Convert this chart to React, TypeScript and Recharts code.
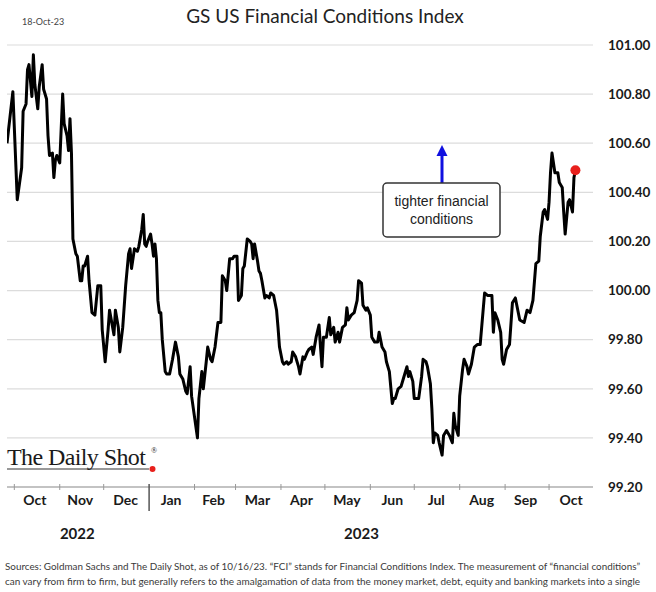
import { LineChart, Line, XAxis, YAxis, CartesianGrid } from "recharts";

// x = days counted from 1 Oct 2022
const days = [
  -5, -1, 2, 5, 6, 8, 9, 10, 12, 13, 14, 16, 17, 19, 20, 22, 23, 24, 26, 27, 28, 29, 31, 33, 34, 36, 37, 38, 39, 40,
  42, 43, 45, 46, 47, 48, 50, 51, 53, 55, 57, 59, 60, 62, 64, 65, 68, 69, 71, 72, 74, 76, 78, 79, 80, 82, 84, 85, 87, 88,
  89, 90, 91, 93, 94, 95, 96, 97, 98, 99, 100, 101, 103, 104, 106, 108, 110, 112, 113, 115, 117, 118, 120, 121, 125, 126, 128, 129, 131, 132,
  134, 135, 137, 139, 141, 142, 144, 145, 147, 149, 150, 152, 153, 155, 156, 157, 159, 161, 162, 163, 164, 166, 167, 168, 169, 171, 172, 174, 175, 177,
  179, 180, 181, 183, 184, 186, 187, 189, 190, 192, 194, 195, 197, 198, 200, 201, 203, 204, 206, 208, 209, 210, 211, 213, 215, 216, 218, 219, 221, 222,
  224, 226, 227, 228, 230, 232, 234, 235, 237, 238, 240, 241, 243, 244, 246, 248, 249, 251, 253, 254, 256, 258, 259, 260, 262, 264, 266, 268, 269, 270,
  272, 273, 274, 276, 278, 279, 281, 282, 284, 285, 286, 287, 289, 290, 292, 293, 295, 296, 297, 299, 300, 301, 303, 304, 306, 307, 309, 310, 312, 314,
  316, 318, 321, 323, 326, 327, 328, 330, 332, 333, 334, 336, 338, 340, 342, 345, 348, 350, 352, 354, 356, 358, 359, 361, 362, 364, 365, 366, 367, 369,
  371, 372, 374, 375, 376, 378, 379, 381, 382, 383
];

const fci = [
  100.6, 100.81, 100.37, 100.5, 100.73, 100.76, 100.9, 100.92, 100.79, 100.96, 100.84, 100.74, 100.83, 100.92, 100.82, 100.78, 100.63, 100.55, 100.56, 100.46, 100.53, 100.55, 100.52, 100.8, 100.68, 100.63, 100.57, 100.7, 100.56, 100.21,
  100.15, 100.14, 100.04, 100.04, 100.1, 100.1, 100.14, 100.04, 99.91, 99.9, 100.02, 100.02, 99.84, 99.71, 99.84, 99.92, 99.82, 99.92, 99.85, 99.75, 99.85, 100.02, 100.15, 100.17, 100.09, 100.17, 100.16, 100.18, 100.25, 100.31,
  100.19, 100.18, 100.2, 100.23, 100.19, 100.14, 100.19, 100.13, 99.96, 99.91, 99.91, 99.8, 99.67, 99.66, 99.66, 99.72, 99.79, 99.73, 99.66, 99.64, 99.59, 99.58, 99.69, 99.57, 99.4, 99.56, 99.67, 99.6, 99.71, 99.77,
  99.72, 99.71, 99.77, 99.87, 99.87, 100.06, 100.04, 100.0, 100.13, 100.13, 100.14, 100.14, 99.96, 99.98, 100.09, 100.1, 100.21, 100.2, 100.19, 100.13, 100.19, 100.12, 100.08, 100.07, 100.04, 99.97, 99.98, 99.97, 99.99, 99.98,
  99.92, 99.85, 99.77, 99.71, 99.7, 99.71, 99.7, 99.71, 99.75, 99.73, 99.69, 99.66, 99.73, 99.72, 99.75, 99.76, 99.77, 99.74, 99.81, 99.86, 99.77, 99.69, 99.81, 99.81, 99.89, 99.82, 99.85, 99.79, 99.83, 99.79,
  99.85, 99.86, 99.93, 99.88, 99.9, 99.91, 99.96, 100.04, 100.03, 99.94, 99.92, 99.93, 99.9, 99.81, 99.79, 99.79, 99.83, 99.77, 99.75, 99.71, 99.67, 99.54, 99.56, 99.56, 99.6, 99.61, 99.65, 99.69, 99.65, 99.67,
  99.63, 99.56, 99.56, 99.56, 99.65, 99.72, 99.71, 99.69, 99.62, 99.52, 99.38, 99.42, 99.41, 99.38, 99.33, 99.41, 99.43, 99.42, 99.41, 99.38, 99.5, 99.45, 99.41, 99.57, 99.68, 99.72, 99.69, 99.66, 99.7, 99.77,
  99.78, 99.78, 99.99, 99.98, 99.98, 99.83, 99.91, 99.88, 99.83, 99.72, 99.7, 99.76, 99.78, 99.95, 99.97, 99.88, 99.87, 99.92, 99.91, 99.96, 100.11, 100.12, 100.22, 100.32, 100.33, 100.29, 100.36, 100.48, 100.56, 100.48,
  100.48, 100.44, 100.42, 100.32, 100.23, 100.36, 100.37, 100.32, 100.46, 100.49
];

const monthStarts = [0, 31, 61, 92, 123, 151, 182, 212, 243, 273, 304, 335, 365];
const monthMids = [14, 45, 76, 107, 136, 166, 196, 227, 258, 288, 319, 349, 380];
const monthLabels = ["Oct", "Nov", "Dec", "Jan", "Feb", "Mar", "Apr", "May", "Jun", "Jul", "Aug", "Sep", "Oct"];
const yearMids = [43, 237];
const yearLabels = ["2022", "2023"];
const yTicks = [99.2, 99.4, 99.6, 99.8, 100.0, 100.2, 100.4, 100.6, 100.8, 101.0];
const xDomain = [-5, 395];

const data = days.map((d, i) => ({ day: d, fci: fci[i] }));
const lastIdx = data.length - 1;

const FONT = "Lato, 'Open Sans', sans-serif";

const BoundaryTick = (props: any) => {
  const { x, y, payload } = props;
  const newYear = payload.value === 92;
  return (
    <line
      x1={x}
      x2={x}
      y1={y - 3}
      y2={y + (newYear ? 24 : 3)}
      stroke={newYear ? "#555" : "#999"}
      strokeWidth={newYear ? 1.5 : 1}
    />
  );
};

const LastDot = (props: any) => {
  const { cx, cy, index } = props;
  if (index !== lastIdx) return <g key={`d${index}`} />;
  return <circle key={`d${index}`} cx={cx} cy={cy} r={5} fill="#e8201c" />;
};

export default function App() {
  return (
    <div
      style={{
        position: "absolute",
        left: 0,
        top: 0,
        width: 656,
        height: 592,
        background: "#fff",
        overflow: "hidden"
      }}
    >
      <LineChart
        width={656}
        height={592}
        data={data}
        margin={{ top: 45, right: 0, left: 7, bottom: 0 }}
      >
        <CartesianGrid vertical={false} stroke="#dcdcdc" strokeWidth={1.2} />
        <XAxis
          xAxisId="b"
          dataKey="day"
          type="number"
          domain={xDomain}
          ticks={monthStarts}
          height={4}
          tickSize={0}
          tickMargin={0}
          tick={<BoundaryTick />}
          axisLine={{ stroke: "#999" }}
          allowDataOverflow
        />
        <XAxis
          xAxisId="m"
          dataKey="day"
          type="number"
          domain={xDomain}
          ticks={monthMids}
          height={30}
          tickSize={0}
          tickMargin={4}
          axisLine={false}
          tickLine={false}
          interval={0}
          tickFormatter={(v: number) => monthLabels[monthMids.indexOf(v)]}
          tick={{ fill: "#1a1a1a", fontSize: 14, fontWeight: 700, fontFamily: FONT }}
          allowDataOverflow
        />
        <XAxis
          xAxisId="y"
          dataKey="day"
          type="number"
          domain={xDomain}
          ticks={yearMids}
          height={71}
          tickSize={0}
          tickMargin={7}
          axisLine={false}
          tickLine={false}
          interval={0}
          tickFormatter={(v: number) => yearLabels[yearMids.indexOf(v)]}
          tick={{ fill: "#1a1a1a", fontSize: 15, fontWeight: 700, fontFamily: FONT }}
          allowDataOverflow
        />
        <YAxis
          orientation="right"
          domain={[99.2, 101]}
          ticks={yTicks}
          width={63}
          tickSize={0}
          tickMargin={15}
          axisLine={false}
          tickLine={false}
          interval={0}
          tickFormatter={(v: number) => v.toFixed(2)}
          tick={{ fill: "#1a1a1a", fontSize: 13.5, fontWeight: 700, fontFamily: FONT, textAnchor: "start" }}
        />
        <Line
          xAxisId="b"
          type="linear"
          dataKey="fci"
          stroke="#000"
          strokeWidth={3}
          strokeLinejoin="round"
          dot={<LastDot />}
          activeDot={false}
          isAnimationActive={false}
        />
      </LineChart>

      <svg
        width={656}
        height={592}
        style={{ position: "absolute", left: 0, top: 0, pointerEvents: "none" }}
      >
        <text x={22} y={25} fontSize={9} fill="#444" fontFamily={FONT}>18-Oct-23</text>
        <text x={325} y={23} textAnchor="middle" fontSize={19} fill="#222" fontFamily={FONT}>
          GS US Financial Conditions Index
        </text>

        {/* annotation */}
        <line x1={442} x2={442} y1={183} y2={154} stroke="#1010e0" strokeWidth={3} />
        <polygon points="442,145 436.5,156 447.5,156" fill="#1010e0" />
        <rect x={383} y={183} width={117} height={54} rx={4} fill="#fff" stroke="#333" strokeWidth={1.5} />
        <text x={441.5} y={206} textAnchor="middle" fontSize={14} fill="#222" fontFamily="'Liberation Sans', Arial, sans-serif">
          tighter financial
        </text>
        <text x={441.5} y={224} textAnchor="middle" fontSize={14} fill="#222" fontFamily="'Liberation Sans', Arial, sans-serif">
          conditions
        </text>

        {/* logo */}
        <text x={7} y={465} fontSize={24} fill="#1a1a1a" fontFamily="'Liberation Serif', 'DejaVu Serif', serif" letterSpacing={-0.6}>
          The Daily Shot
        </text>
        <text x={151} y={453} fontSize={8} fill="#222" fontFamily="'Liberation Serif', serif">®</text>
        <line x1={7} x2={149} y1={469} y2={469} stroke="#333" strokeWidth={1.2} />
        <circle cx={152.5} cy={469} r={3} fill="#e8201c" />

        {/* footer */}
        <text x={5} y={570} fontSize={9.6} fill="#3a3a3a" fontFamily={FONT} textLength={635} lengthAdjust="spacingAndGlyphs">
          Sources: Goldman Sachs and The Daily Shot, as of 10/16/23. “FCI” stands for Financial Conditions Index. The measurement of “financial conditions”
        </text>
        <text x={5} y={585} fontSize={9.6} fill="#3a3a3a" fontFamily={FONT} textLength={635} lengthAdjust="spacingAndGlyphs">
          can vary from firm to firm, but generally refers to the amalgamation of data from the money market, debt, equity and banking markets into a single
        </text>
      </svg>
    </div>
  );
}
